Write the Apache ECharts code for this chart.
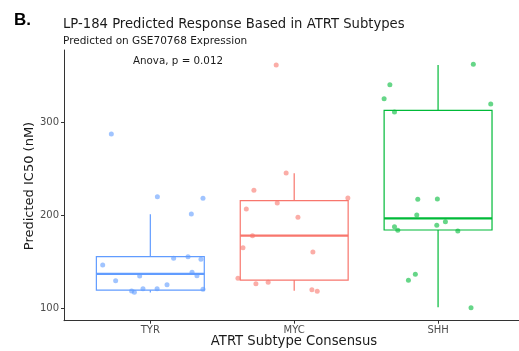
<!DOCTYPE html>
<html>
<head>
<meta charset="utf-8">
<script src="https://cdn.jsdelivr.net/npm/echarts@6/dist/echarts.min.js"></script>
<style>
  html, body { margin: 0; padding: 0; background: #ffffff; }
  #chart { width: 519px; height: 351px; }
</style>
</head>
<body>
<div id="chart"></div>
<script>
// Subtype categories (placed at x = 1, 2, 3)
const categories = ['TYR', 'MYC', 'SHH'];
const yTicks = [100, 200, 300];

// Box statistics per subtype: [lower whisker, Q1, median, Q3, upper whisker]
const boxTYR = [117, 119.5, 137, 155.5, 201];
const boxMYC = [119, 130.4, 178.1, 215.7, 245.2];
const boxSHH = [101.1, 184.2, 196.8, 312.9, 361.6];

// Jittered sample points: [x position, predicted IC50]
const pointsTYR = [
  [0.729, 287.4], [1.049, 220.0], [1.366, 218.3], [1.285, 201.4], [1.162, 153.8],
  [1.262, 155.5], [1.352, 152.7], [0.669, 146.6], [1.290, 138.7], [1.324, 135.0],
  [0.926, 134.7], [0.759, 129.7], [1.116, 125.4], [1.047, 121.1], [0.949, 121.1],
  [0.889, 117.2], [0.870, 118.5], [1.366, 120.4]
];
const pointsMYC = [
  [1.875, 361.6], [1.944, 245.5], [1.720, 226.9], [1.882, 213.2], [1.667, 206.8],
  [2.373, 218.6], [2.026, 197.8], [1.710, 178.1], [1.644, 165.2], [2.130, 160.5],
  [1.609, 132.3], [1.734, 126.5], [1.819, 128.0], [2.123, 120.0], [2.160, 118.3]
];
const pointsSHH = [
  [3.245, 362.4], [2.665, 340.4], [2.625, 325.4], [3.366, 319.7], [2.697, 311.1],
  [2.859, 217.2], [2.995, 217.5], [2.852, 200.3], [3.051, 193.1], [2.991, 189.2],
  [2.697, 187.7], [2.720, 183.9], [3.137, 183.1], [2.842, 136.6], [2.794, 130.1],
  [3.229, 100.6]
];

const colors = { TYR: '#619CFF', MYC: '#F8766D', SHH: '#00BA38' };
const boxWidth = 0.75;

const chart = echarts.init(document.getElementById('chart'), null, { renderer: 'canvas' });

function boxSeries(name, stats, pos) {
  return {
    type: 'custom',
    name: name,
    z: 2,
    data: [[pos].concat(stats)],
    renderItem: function (params, api) {
      const x = api.value(0);
      const lo = api.value(1), q1 = api.value(2), med = api.value(3), q3 = api.value(4), hi = api.value(5);
      const left = api.coord([x - boxWidth / 2, q3]);
      const right = api.coord([x + boxWidth / 2, q1]);
      const pLo = api.coord([x, lo]);
      const pQ1 = api.coord([x, q1]);
      const pQ3 = api.coord([x, q3]);
      const pHi = api.coord([x, hi]);
      const pMedL = api.coord([x - boxWidth / 2, med]);
      const pMedR = api.coord([x + boxWidth / 2, med]);
      const c = colors[name];
      return {
        type: 'group',
        children: [
          { type: 'line', shape: { x1: pHi[0], y1: pHi[1], x2: pQ3[0], y2: pQ3[1] }, style: { stroke: c, lineWidth: 1.2 } },
          { type: 'line', shape: { x1: pQ1[0], y1: pQ1[1], x2: pLo[0], y2: pLo[1] }, style: { stroke: c, lineWidth: 1.2 } },
          { type: 'rect', shape: { x: left[0], y: left[1], width: right[0] - left[0], height: right[1] - left[1] },
            style: { fill: 'rgba(255,255,255,0)', stroke: c, lineWidth: 1.2 } },
          { type: 'line', shape: { x1: pMedL[0], y1: pMedL[1], x2: pMedR[0], y2: pMedR[1] }, style: { stroke: c, lineWidth: 2.2 } }
        ]
      };
    }
  };
}

function pointSeries(name, pts) {
  return {
    type: 'scatter',
    name: name,
    z: 3,
    symbolSize: 5,
    data: pts,
    itemStyle: { color: colors[name], opacity: 0.6 },
    emphasis: { disabled: true }
  };
}

const fontMain = 'DejaVu Sans, Verdana, sans-serif';

chart.setOption({
  animation: false,
  backgroundColor: '#ffffff',
  grid: { left: 64, right: 0, top: 50, bottom: 30.3, containLabel: false, outerBoundsMode: 'none' },
  xAxis: {
    type: 'value',
    min: 0.4,
    max: 3.5625,
    splitLine: { show: false },
    axisLine: { show: true, onZero: false, lineStyle: { color: '#333333', width: 1 } },
    axisTick: { show: true, length: 3, customValues: [1, 2, 3], lineStyle: { color: '#333333' } },
    axisLabel: {
      customValues: [1, 2, 3],
      formatter: v => categories[Math.round(v) - 1],
      color: '#4d4d4d', fontSize: 10, fontFamily: fontMain, margin: 5
    }
  },
  yAxis: {
    type: 'value',
    min: 86.7,
    max: 377.7,
    splitLine: { show: false },
    axisLine: { show: true, onZero: false, lineStyle: { color: '#333333', width: 1 } },
    axisTick: { show: true, length: 3, customValues: yTicks, lineStyle: { color: '#333333' } },
    axisLabel: {
      customValues: yTicks,
      color: '#4d4d4d', fontSize: 10, fontFamily: fontMain, margin: 5
    }
  },
  graphic: [
    { type: 'text', left: 14, top: 12, style: { text: 'B.', font: 'bold 17px "Liberation Sans", Arial, sans-serif', fill: '#000000' } },
    { type: 'text', left: 63, top: 18, style: { text: 'LP-184 Predicted Response Based in ATRT Subtypes', font: '13.2px "DejaVu Sans", sans-serif', fill: '#1a1a1a' } },
    { type: 'text', left: 63, top: 36, style: { text: 'Predicted on GSE70768 Expression', font: '10.5px "DejaVu Sans", sans-serif', fill: '#1a1a1a' } },
    { type: 'text', left: 133, top: 56, style: { text: 'Anova, p = 0.012', font: '10.3px "DejaVu Sans", sans-serif', fill: '#1a1a1a' } },
    // axis titles
    { type: 'text', x: 294, y: 342, style: { text: 'ATRT Subtype Consensus', font: '13.2px "DejaVu Sans", sans-serif', fill: '#1a1a1a', align: 'center', verticalAlign: 'middle' } },
    { type: 'text', x: 30, y: 186, rotation: Math.PI / 2, style: { text: 'Predicted IC50 (nM)', font: '13px "DejaVu Sans", sans-serif', fill: '#1a1a1a', align: 'center', verticalAlign: 'middle' } }
  ],
  series: [
    boxSeries('TYR', boxTYR, 1),
    boxSeries('MYC', boxMYC, 2),
    boxSeries('SHH', boxSHH, 3),
    pointSeries('TYR', pointsTYR),
    pointSeries('MYC', pointsMYC),
    pointSeries('SHH', pointsSHH)
  ]
});
</script>
</body>
</html>
